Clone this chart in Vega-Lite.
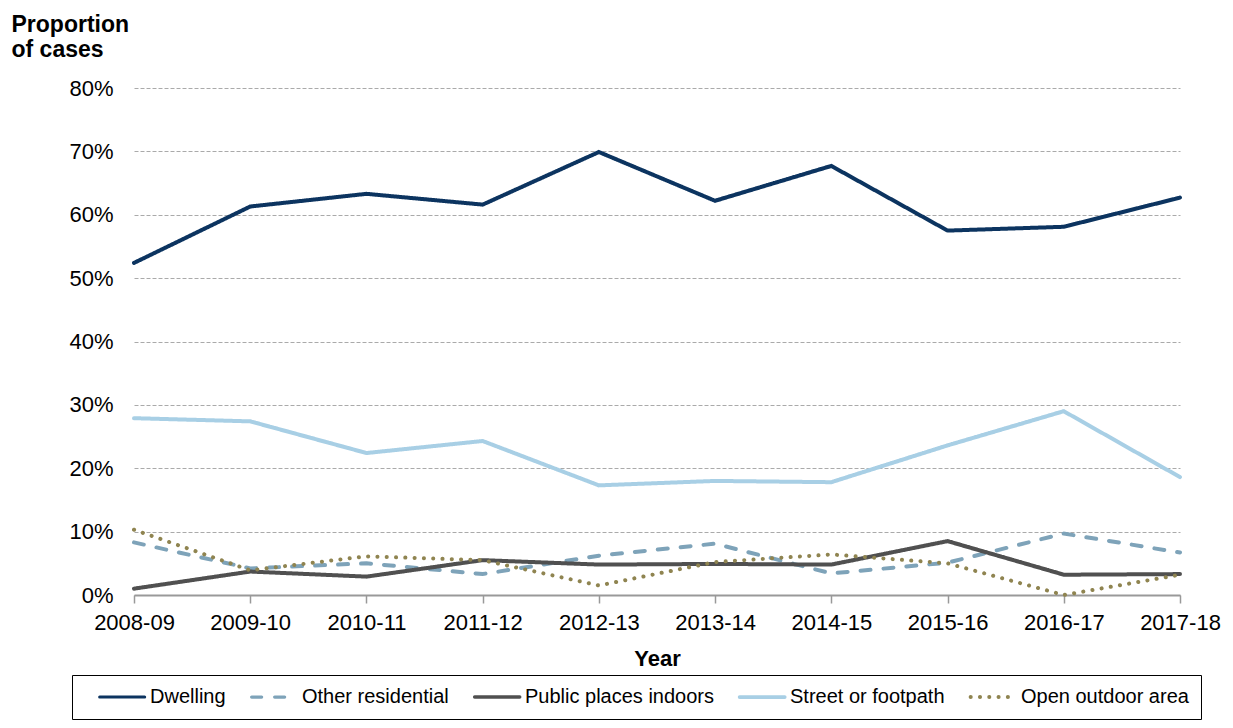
{
  "$schema": "https://vega.github.io/schema/vega-lite/v6.json",
  "width": 1046,
  "height": 507,
  "autosize": {"type": "none"},
  "padding": {"left": 134, "top": 88, "right": 53, "bottom": 133},
  "background": "white",
  "config": {
    "view": {"stroke": null},
    "font": "Liberation Sans",
    "axis": {"labelFont": "Liberation Sans", "titleFont": "Liberation Sans", "labelColor": "#000000", "titleColor": "#000000"},
    "legend": {"labelFont": "Liberation Sans", "labelColor": "#000000", "titleFont": "Liberation Sans"}
  },
  "data": {
    "values": [
      {"year": "2008-09", "type": "Dwelling", "pct": 52.4},
      {"year": "2009-10", "type": "Dwelling", "pct": 61.3},
      {"year": "2010-11", "type": "Dwelling", "pct": 63.3},
      {"year": "2011-12", "type": "Dwelling", "pct": 61.6},
      {"year": "2012-13", "type": "Dwelling", "pct": 69.9},
      {"year": "2013-14", "type": "Dwelling", "pct": 62.2},
      {"year": "2014-15", "type": "Dwelling", "pct": 67.7},
      {"year": "2015-16", "type": "Dwelling", "pct": 57.5},
      {"year": "2016-17", "type": "Dwelling", "pct": 58.1},
      {"year": "2017-18", "type": "Dwelling", "pct": 62.7},
      {"year": "2008-09", "type": "Other residential", "pct": 8.3},
      {"year": "2009-10", "type": "Other residential", "pct": 4.2},
      {"year": "2010-11", "type": "Other residential", "pct": 5.0},
      {"year": "2011-12", "type": "Other residential", "pct": 3.3},
      {"year": "2012-13", "type": "Other residential", "pct": 6.2},
      {"year": "2013-14", "type": "Other residential", "pct": 8.1},
      {"year": "2014-15", "type": "Other residential", "pct": 3.4},
      {"year": "2015-16", "type": "Other residential", "pct": 5.1},
      {"year": "2016-17", "type": "Other residential", "pct": 9.7},
      {"year": "2017-18", "type": "Other residential", "pct": 6.7},
      {"year": "2008-09", "type": "Public places indoors", "pct": 1.0},
      {"year": "2009-10", "type": "Public places indoors", "pct": 3.7},
      {"year": "2010-11", "type": "Public places indoors", "pct": 2.9},
      {"year": "2011-12", "type": "Public places indoors", "pct": 5.5},
      {"year": "2012-13", "type": "Public places indoors", "pct": 4.8},
      {"year": "2013-14", "type": "Public places indoors", "pct": 4.9},
      {"year": "2014-15", "type": "Public places indoors", "pct": 4.8},
      {"year": "2015-16", "type": "Public places indoors", "pct": 8.5},
      {"year": "2016-17", "type": "Public places indoors", "pct": 3.2},
      {"year": "2017-18", "type": "Public places indoors", "pct": 3.3},
      {"year": "2008-09", "type": "Street or footpath", "pct": 27.9},
      {"year": "2009-10", "type": "Street or footpath", "pct": 27.4},
      {"year": "2010-11", "type": "Street or footpath", "pct": 22.4},
      {"year": "2011-12", "type": "Street or footpath", "pct": 24.3},
      {"year": "2012-13", "type": "Street or footpath", "pct": 17.3},
      {"year": "2013-14", "type": "Street or footpath", "pct": 18.0},
      {"year": "2014-15", "type": "Street or footpath", "pct": 17.8},
      {"year": "2015-16", "type": "Street or footpath", "pct": 23.6},
      {"year": "2016-17", "type": "Street or footpath", "pct": 29.0},
      {"year": "2017-18", "type": "Street or footpath", "pct": 18.6},
      {"year": "2008-09", "type": "Open outdoor area", "pct": 10.3},
      {"year": "2009-10", "type": "Open outdoor area", "pct": 3.9},
      {"year": "2010-11", "type": "Open outdoor area", "pct": 6.1},
      {"year": "2011-12", "type": "Open outdoor area", "pct": 5.5},
      {"year": "2012-13", "type": "Open outdoor area", "pct": 1.5},
      {"year": "2013-14", "type": "Open outdoor area", "pct": 5.2},
      {"year": "2014-15", "type": "Open outdoor area", "pct": 6.4},
      {"year": "2015-16", "type": "Open outdoor area", "pct": 5.0},
      {"year": "2016-17", "type": "Open outdoor area", "pct": 0.0},
      {"year": "2017-18", "type": "Open outdoor area", "pct": 3.2}
    ]
  },
  "mark": {"type": "line", "strokeWidth": 4, "strokeCap": "round", "strokeJoin": "miter"},
  "encoding": {
    "x": {
      "field": "year",
      "type": "ordinal",
      "sort": null,
      "scale": {"type": "point", "padding": 0},
      "axis": {
        "title": "Year",
        "titleFontSize": 22,
        "titleFontWeight": "bold",
        "titleBaseline": "middle",
        "titleY": 63,
        "labelFontSize": 22,
        "labelAngle": 0,
        "labelPadding": 9,
        "tickSize": 8,
        "tickColor": "#999999",
        "tickWidth": 1.5,
        "domainColor": "#999999",
        "domainWidth": 2,
        "grid": false
      }
    },
    "y": {
      "field": "pct",
      "type": "quantitative",
      "scale": {"domain": [0, 80], "nice": false},
      "axis": {
        "values": [0, 10, 20, 30, 40, 50, 60, 70, 80],
        "labelExpr": "datum.value + '%'",
        "labelFontSize": 22,
        "labelPadding": 21,
        "ticks": false,
        "domain": false,
        "grid": true,
        "gridColor": "#aaaaaa",
        "gridDash": [4, 2],
        "gridWidth": 1,
        "title": ["Proportion", "of cases"],
        "titleFontSize": 23,
        "titleFontWeight": "bold",
        "titleAngle": 0,
        "titleAlign": "left",
        "titleBaseline": "alphabetic",
        "titleLineHeight": 25,
        "titleX": -123,
        "titleY": -57
      }
    },
    "color": {
      "field": "type",
      "type": "nominal",
      "scale": {
        "domain": ["Dwelling", "Other residential", "Public places indoors", "Street or footpath", "Open outdoor area"],
        "range": ["#0c3460", "#7ea3b9", "#505050", "#a8cfe5", "#8f8450"]
      },
      "legend": {
        "orient": "none",
        "legendX": -62,
        "legendY": 587,
        "direction": "horizontal",
        "columns": 5,
        "title": "\u2003",
        "titleOrient": "left",
        "titleFontSize": 16,
        "titlePadding": 0,
        "labelFontSize": 20,
        "labelOffset": 46,
        "columnPadding": 10,
        "symbolType": "M1,0H9",
        "symbolSize": 127,
        "symbolStrokeWidth": 4,
        "padding": 12,
        "strokeColor": "#000000",
        "labelLimit": 400,
        "encode": {"symbols": {"update": {"strokeCap": {"value": "round"}}}}
      }
    },
    "strokeDash": {
      "field": "type",
      "type": "nominal",
      "scale": {
        "domain": ["Dwelling", "Other residential", "Public places indoors", "Street or footpath", "Open outdoor area"],
        "range": [[1, 0], [10, 13], [1, 0], [1, 0], [0.1, 9.2]]
      },
      "legend": null
    },
    "strokeWidth": {
      "field": "type",
      "type": "nominal",
      "scale": {
        "domain": ["Dwelling", "Other residential", "Public places indoors", "Street or footpath", "Open outdoor area"],
        "range": [3, 4, 4, 4, 4]
      },
      "legend": null
    }
  }
}
